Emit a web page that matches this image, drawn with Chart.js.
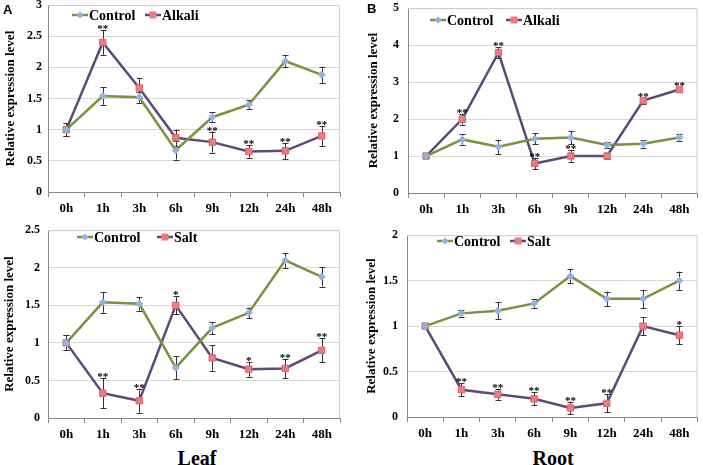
<!DOCTYPE html>
<html>
<head>
<meta charset="utf-8">
<script src="https://cdn.jsdelivr.net/npm/chart.js@4/dist/chart.umd.min.js"></script>
<style>
  html, body { margin: 0; padding: 0; background: #fff; }
  #page { position: relative; width: 703px; height: 465px; overflow: hidden; }
  canvas { position: absolute; }
  .lbl { position: absolute; font-family: 'Liberation Serif', serif; font-weight: bold; color: #000; line-height: 1; }
  .letter { font-family: 'Liberation Sans', Arial, sans-serif; font-size: 13px; }
  .organ { font-size: 20px; transform: translateX(-50%); }
</style>
</head>
<body>
<div id="page">
  <canvas id="cA"></canvas>
  <canvas id="cB"></canvas>
  <canvas id="cC"></canvas>
  <canvas id="cD"></canvas>
  <div class="lbl letter" style="left:3px;top:3px">A</div>
  <div class="lbl letter" style="left:367px;top:2px">B</div>
  <div class="lbl organ" style="left:197px;top:448px">Leaf</div>
  <div class="lbl organ" style="left:553px;top:448px">Root</div>
</div>
<script>
const HOURS = ['0h', '1h', '3h', '6h', '9h', '12h', '24h', '48h'];

// leaf
const leafControl    = [1.0, 1.54, 1.52, 0.67, 1.2, 1.4, 2.1, 1.88];
const leafControlErr = [0.1, 0.14, 0.09, 0.15, 0.08, 0.07, 0.1, 0.13];
const leafAlkali     = [1.0, 2.4, 1.67, 0.87, 0.8, 0.65, 0.66, 0.9];
const leafAlkaliErr  = [0.1, 0.2, 0.16, 0.13, 0.17, 0.1, 0.13, 0.16];
const leafAlkaliSig  = ['', '**', '', '', '**', '**', '**', '**'];
const leafSalt       = [1.0, 0.33, 0.23, 1.5, 0.8, 0.65, 0.66, 0.9];
const leafSaltErr    = [0.1, 0.2, 0.16, 0.12, 0.17, 0.1, 0.13, 0.16];
const leafSaltSig    = ['', '**', '**', '*', '', '*', '**', '**'];

// root
const rootAlkCtrl    = [1.0, 1.45, 1.25, 1.47, 1.5, 1.3, 1.33, 1.5];
const rootAlkCtrlErr = [0.05, 0.14, 0.19, 0.15, 0.18, 0.08, 0.1, 0.1];
const rootAlkali     = [1.0, 2.0, 3.8, 0.8, 1.0, 1.0, 2.5, 2.8];
const rootAlkaliErr  = [0.05, 0.15, 0.15, 0.15, 0.15, 0.08, 0.08, 0.08];
const rootAlkaliSig  = ['', '**', '**', '**', '**', '', '**', '**'];
const rootSaltCtrl    = [1.0, 1.14, 1.17, 1.25, 1.55, 1.3, 1.3, 1.5];
const rootSaltCtrlErr = [0.01, 0.04, 0.09, 0.05, 0.08, 0.08, 0.1, 0.1];
const rootSalt        = [1.0, 0.3, 0.25, 0.2, 0.1, 0.15, 1.0, 0.9];
const rootSaltErr     = [0.01, 0.07, 0.06, 0.07, 0.07, 0.1, 0.1, 0.1];
const rootSaltSig     = ['', '**', '**', '**', '**', '**', '', '*'];

const SERIF = "'Liberation Serif', 'Times New Roman', serif";
const GREEN = '#77933c', BLUE = '#8db4e2', PURPLE = '#5f497a', PINK = '#ee7b7e';

// error bars behind markers, frame, stars and legend on top
const extras = {
  id: 'extras',
  beforeDatasetsDraw(chart) {
    const { ctx, chartArea: a } = chart;
    ctx.save();
    ctx.strokeStyle = '#d0d0d0';
    ctx.lineWidth = 1;
    ctx.beginPath();
    ctx.moveTo(a.left, a.top + 0.5); ctx.lineTo(a.right - 0.5, a.top + 0.5); ctx.lineTo(a.right - 0.5, a.bottom);
    ctx.stroke();
    ctx.strokeStyle = '#333';
    chart.data.datasets.forEach((ds, i) => {
      const meta = chart.getDatasetMeta(i);
      const y = chart.scales.y;
      ds.data.forEach((v, j) => {
        const x = Math.round(meta.data[j].x) + 0.5;
        const y0 = y.getPixelForValue(v - ds.err[j]);
        const y1 = y.getPixelForValue(v + ds.err[j]);
        ctx.beginPath();
        ctx.moveTo(x, y0); ctx.lineTo(x, y1);
        ctx.moveTo(x - 3, Math.round(y0) + 0.5); ctx.lineTo(x + 3, Math.round(y0) + 0.5);
        ctx.moveTo(x - 3, Math.round(y1) + 0.5); ctx.lineTo(x + 3, Math.round(y1) + 0.5);
        ctx.stroke();
      });
    });
    ctx.restore();
  },
  afterDatasetsDraw(chart) {
    const { ctx } = chart;
    const y = chart.scales.y;
    ctx.save();
    ctx.fillStyle = '#000';
    ctx.font = 'bold 11px ' + SERIF;
    ctx.textAlign = 'center';
    ctx.textBaseline = 'alphabetic';
    chart.data.datasets.forEach((ds, i) => {
      if (!ds.sig) return;
      const meta = chart.getDatasetMeta(i);
      ds.sig.forEach((s, j) => {
        if (!s) return;
        ctx.fillText(s, meta.data[j].x, y.getPixelForValue(ds.data[j] + ds.err[j]) + 2);
      });
    });
    // legend
    const lg = chart.options.plugins.extras;
    ctx.font = 'bold 14px ' + SERIF;
    ctx.textAlign = 'left';
    ctx.textBaseline = 'middle';
    chart.data.datasets.forEach((ds, i) => {
      const x = lg.xs[i], yy = lg.y;
      ctx.strokeStyle = ds.borderColor;
      ctx.lineWidth = 2.5;
      ctx.beginPath(); ctx.moveTo(x, yy); ctx.lineTo(x + 16, yy); ctx.stroke();
      ctx.fillStyle = ds.pointBackgroundColor;
      ctx.beginPath();
      if (ds.pointStyle === 'rect') {
        ctx.rect(x + 4.5, yy - 3.5, 7, 7);
      } else {
        ctx.moveTo(x + 8, yy - 3.5); ctx.lineTo(x + 11.5, yy); ctx.lineTo(x + 8, yy + 3.5); ctx.lineTo(x + 4.5, yy);
        ctx.closePath();
      }
      ctx.fill();
      ctx.fillStyle = '#000';
      ctx.fillText(ds.label, x + 17, yy + 1);
    });
    ctx.restore();
  }
};

function makePanel(id, box, area, opts) {
  const cv = document.getElementById(id);
  cv.style.left = box.x + 'px';
  cv.style.top = box.y + 'px';
  cv.width = box.w;
  cv.height = box.h;
  const axisW = area.left - box.x;
  const axisH = box.y + box.h - area.bottom;
  return new Chart(cv, {
    type: 'line',
    data: {
      labels: HOURS,
      datasets: [
        {
          label: 'Control', data: opts.ctrl, err: opts.ctrlErr,
          borderColor: GREEN, borderWidth: 2.5,
          pointStyle: 'rectRot', pointRadius: 4, pointBackgroundColor: BLUE, pointBorderColor: BLUE, pointBorderWidth: 0,
          tension: 0
        },
        {
          label: opts.name, data: opts.treat, err: opts.treatErr, sig: opts.sig,
          borderColor: PURPLE, borderWidth: 2.5,
          pointStyle: 'rect', pointRadius: 4.5, pointBackgroundColor: PINK, pointBorderColor: '#d9666a', pointBorderWidth: 1,
          tension: 0
        }
      ]
    },
    options: {
      responsive: false,
      animation: false,
      events: [],
      layout: { padding: { top: area.top - box.y, right: box.x + box.w - area.right, left: 0, bottom: 0 } },
      plugins: {
        legend: { display: false },
        tooltip: { enabled: false },
        extras: { xs: opts.legendXs.map(v => v - box.x), y: opts.legendY - box.y }
      },
      scales: {
        x: {
          offset: true,
          grid: { offset: true, drawOnChartArea: false, drawTicks: true, tickLength: 5, color: '#888' },
          border: { color: '#888', width: 1 },
          ticks: { color: '#000', padding: 4, font: { family: SERIF, size: 13, weight: 'bold' }, maxRotation: 0 },
          afterFit(s) { s.height = axisH; }
        },
        y: {
          min: 0, max: opts.max,
          ticks: { stepSize: opts.step, color: '#000', padding: opts.tickPad, font: { family: SERIF, size: 12, weight: 'bold' }, callback: v => String(v) },
          grid: { color: '#d9d9d9', drawTicks: false },
          border: { color: '#888', width: 1 },
          title: { display: true, text: 'Relative expression level', color: '#000', padding: { top: opts.titlePad, bottom: 0 }, font: { family: SERIF, size: 13, weight: 'bold' } },
          afterFit(s) { s.width = axisW; }
        }
      }
    },
    plugins: [extras]
  });
}

makePanel('cA', { x: 0, y: -10, w: 351, h: 235 }, { left: 48, top: 5, right: 340, bottom: 192 }, {
  ctrl: leafControl, ctrlErr: leafControlErr, treat: leafAlkali, treatErr: leafAlkaliErr, sig: leafAlkaliSig,
  name: 'Alkali', max: 3, step: 0.5, tickPad: 6, titlePad: 3, legendXs: [72, 145], legendY: 15
});
makePanel('cB', { x: 351, y: -8, w: 352, h: 233 }, { left: 408, top: 8, right: 701, bottom: 193 }, {
  ctrl: rootAlkCtrl, ctrlErr: rootAlkCtrlErr, treat: rootAlkali, treatErr: rootAlkaliErr, sig: rootAlkaliSig,
  name: 'Alkali', max: 5, step: 1, tickPad: 9, titlePad: 15, legendXs: [430, 506], legendY: 20
});
makePanel('cC', { x: 0, y: 215, w: 351, h: 230 }, { left: 48, top: 227, right: 340, bottom: 418 }, {
  ctrl: leafControl, ctrlErr: leafControlErr, treat: leafSalt, treatErr: leafSaltErr, sig: leafSaltSig,
  name: 'Salt', max: 2.5, step: 0.5, tickPad: 8, titlePad: 2, legendXs: [77, 157], legendY: 237
});
makePanel('cD', { x: 351, y: 219, w: 352, h: 226 }, { left: 407, top: 231, right: 701, bottom: 417 }, {
  ctrl: rootSaltCtrl, ctrlErr: rootSaltCtrlErr, treat: rootSalt, treatErr: rootSaltErr, sig: rootSaltSig,
  name: 'Salt', max: 2, step: 0.5, tickPad: 9, titlePad: 13, legendXs: [437, 510], legendY: 241
});
</script>
</body>
</html>
